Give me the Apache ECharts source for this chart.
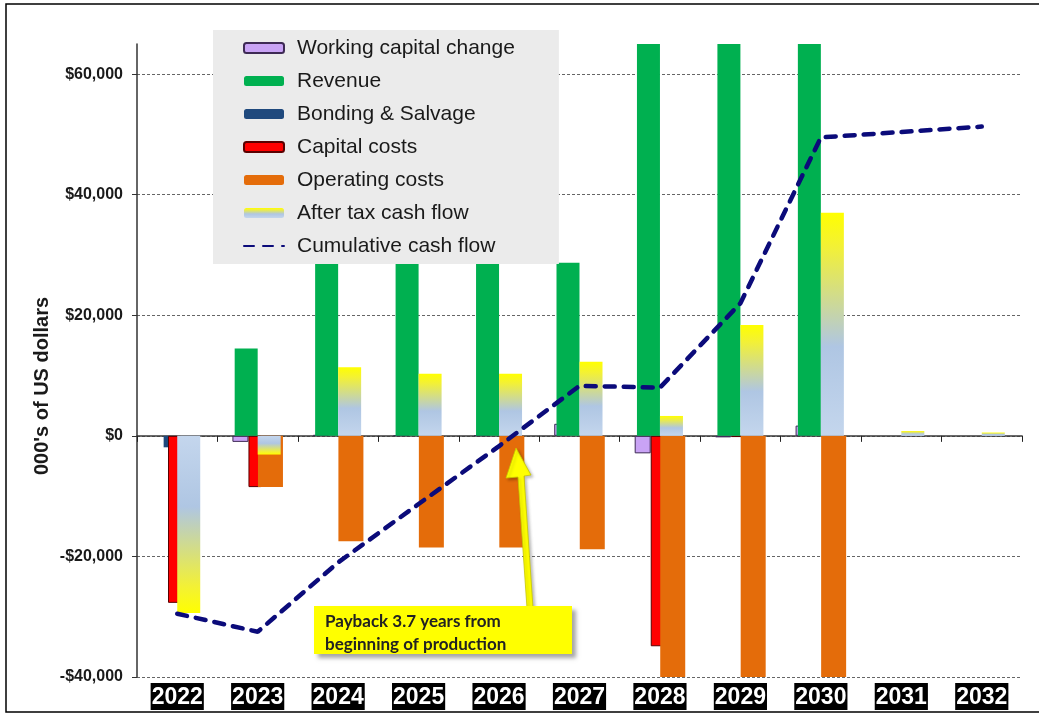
<!DOCTYPE html>
<html>
<head>
<meta charset="utf-8">
<script src="https://cdn.jsdelivr.net/npm/echarts@6/dist/echarts.min.js"></script>
<style>
html,body{margin:0;padding:0;background:#fff;}
#chart{width:1039px;height:714px;}
</style>
</head>
<body>
<div id="chart"></div>
<script>
// 年份
let years = ['2022','2023','2024','2025','2026','2027','2028','2029','2030','2031','2032'];
// 现金流各项 (000's of US dollars)
let workingCapital = [0, -1000, 150, 100, 100, 2000, -2900, -250, 1700, 0, 0];
let revenue = [0, 14500, 28700, 28700, 28700, 28700, 67000, 67000, 67000, 0, 0];
let bonding = [-1900, 0, 0, 0, 0, 0, 0, 0, 0, 0, 0];
let capitalCosts = [-27700, -8500, 0, 0, 0, 0, -34900, -200, 0, 0, 0];
let operatingCosts = [0, -8500, -17500, -18500, -18500, -18800, -42000, -42000, -42000, 0, 0];
let afterTax = [-29400, -3100, 11400, 10300, 10300, 12300, 3300, 18400, 37000, 800, 550];
let cumulative = [-29500, -32500, -21000, -11300, -1700, 8300, 8000, 22000, 49500, 50400, 51300];
// y轴刻度
let yTicks = [-40000, -20000, 0, 20000, 40000, 60000];
let yMax = 65000;

let fontFam = '"Liberation Sans", Arial, sans-serif';

// 0 不画
function clean(arr){
    return arr.map(function(v){ return v === 0 ? '-' : v; });
}

// 渐变: 靠近0轴为浅蓝, 远端为黄色
function grad(up){
    let stops = [
        {offset:0, color:'#ffff00'},
        {offset:0.15, color:'#f3f135'},
        {offset:0.6, color:'#afc6e3'},
        {offset:1, color:'#c4d6ed'}
    ];
    if(!up){
        stops = stops.map(function(s){ return {offset:1-s.offset, color:s.color}; }).reverse();
    }
    return new echarts.graphic.LinearGradient(0,0,0,1,stops);
}

let afterTaxData = afterTax.map(function(v){
    return {value: v === 0 ? '-' : v, itemStyle:{color: grad(v >= 0)}};
});

let myChart = echarts.init(document.getElementById('chart'));
myChart.setOption({
    animation:false,
    backgroundColor:'#fff',
    grid:{left:137, right:17, top:44, bottom:37},
    legend:{
        orient:'vertical',
        left:213,
        top:30,
        padding:[7,44,7,30],
        backgroundColor:'#ebebeb',
        itemWidth:40,
        itemHeight:10,
        itemGap:11,
        textStyle:{fontSize:21, color:'#1a1a1a', fontFamily:fontFam, lineHeight:22, padding:[0,0,0,8]},
        data:[
            'Working capital change','Revenue','Bonding & Salvage','Capital costs','Operating costs','After tax cash flow',
            {name:'Cumulative cash flow', itemStyle:{opacity:0}}
        ]
    },
    xAxis:[
        {   // 底部年份标签
            type:'category',
            data:years,
            position:'bottom',
            axisLine:{show:false, onZero:false},
            axisTick:{show:false},
            axisLabel:{
                color:'#fff',
                fontSize:23,
                fontWeight:'bold',
                fontFamily:fontFam,
                backgroundColor:'#000',
                padding:[2,1,0,1],
                lineHeight:25,
                margin:6
            },
            splitLine:{show:false}
        },
        {   // 0 轴线
            type:'category',
            data:years,
            position:'bottom',
            axisLine:{show:true, onZero:true, lineStyle:{color:'#3a3a3a', width:1.5}},
            axisTick:{show:true, length:6, lineStyle:{color:'#222'}},
            axisLabel:{show:false},
            splitLine:{show:false}
        },
        {   // 收入/税后现金流
            type:'category',
            data:years,
            show:false
        }
    ],
    yAxis:{
        type:'value',
        min:yTicks[0],
        max:yMax,
        interval:yTicks[1]-yTicks[0],
        axisLine:{show:true, lineStyle:{color:'#333', width:1.5}},
        axisTick:{show:true, length:5, lineStyle:{color:'#333'}},
        axisLabel:{
            color:'#1a1a1a',
            fontSize:16,
            fontWeight:'bold',
            fontFamily:fontFam,
            margin:14,
            showMaxLabel:false,
            formatter:function(v){
                if(yTicks.indexOf(v) < 0) return '';
                return (v < 0 ? '-' : '') + '$' + Math.abs(v).toLocaleString('en-US');
            }
        },
        splitLine:{
            show:true,
            showMaxLine:false,
            lineStyle:{color:'#666', width:1, type:[3,2]}
        }
    },
    graphic:[
        {   // 外框
            type:'rect',
            z:100,
            shape:{x:6, y:4, width:1100, height:708},
            style:{fill:'none', stroke:'#000', lineWidth:1.5}
        },
        {   // y轴名称
            type:'text',
            z:100,
            x:42,
            y:386,
            rotation:Math.PI/2,
            style:{
                text:"000's of US dollars",
                font:'bold 20px ' + fontFam,
                fill:'#1a1a1a',
                align:'center',
                verticalAlign:'middle'
            }
        },
        {   // 箭头
            type:'polygon',
            z:100,
            shape:{points:[[527,608],[518,477],[506,478],[516,448],[531,475],[524,476],[533,608]]},
            style:{fill:'#ffff00', stroke:'#c8c800', lineWidth:0.8, shadowBlur:3, shadowOffsetX:2, shadowOffsetY:2, shadowColor:'rgba(0,0,0,0.25)'}
        },
        {   // 注释框
            type:'rect',
            z:101,
            shape:{x:314, y:606, width:258, height:48},
            style:{fill:'#ffff00', shadowBlur:4, shadowOffsetX:4, shadowOffsetY:4, shadowColor:'rgba(0,0,0,0.35)'}
        },
        {
            type:'text',
            z:102,
            x:325,
            y:633,
            style:{
                text:'Payback 3.7 years from\nbeginning of production',
                font:'bold 17px Lato, "Open Sans", sans-serif',
                lineHeight:23,
                fill:'#222',
                align:'left',
                verticalAlign:'middle'
            }
        }
    ],
    series:[
        {
            name:'Working capital change',
            type:'bar',
            xAxisIndex:1,
            barWidth:16,
            barGap:'-27%',
            itemStyle:{color:'#c9a3f5', borderColor:'#3e2a55', borderWidth:1},
            data:clean(workingCapital)
        },
        {
            name:'Bonding & Salvage',
            type:'bar',
            xAxisIndex:1,
            barWidth:6,
            barGap:'-27%',
            itemStyle:{color:'#1f497d'},
            data:clean(bonding)
        },
        {
            name:'Capital costs',
            type:'bar',
            xAxisIndex:1,
            barWidth:13,
            barGap:'-27%',
            itemStyle:{color:'#ff0000', borderColor:'#5a0000', borderWidth:1},
            data:clean(capitalCosts)
        },
        {
            name:'Operating costs',
            type:'bar',
            xAxisIndex:1,
            barWidth:25,
            barGap:'-27%',
            itemStyle:{color:'#e46c0a'},
            data:clean(operatingCosts)
        },
        {
            name:'Revenue',
            type:'bar',
            xAxisIndex:2,
            barWidth:23,
            barGap:'0%',
            itemStyle:{color:'#00b050'},
            data:clean(revenue)
        },
        {
            name:'After tax cash flow',
            type:'bar',
            xAxisIndex:2,
            barWidth:23,
            barGap:'0%',
            itemStyle:{color:grad(true)},
            data:afterTaxData
        },
        {
            name:'Cumulative cash flow',
            type:'line',
            xAxisIndex:0,
            symbol:'none',
            z:5,
            lineStyle:{color:'#0b0b7a', width:4.5, type:[10,9], cap:'round'},
            itemStyle:{color:'#0b0b7a'},
            data:cumulative
        }
    ]
});
</script>
</body>
</html>
